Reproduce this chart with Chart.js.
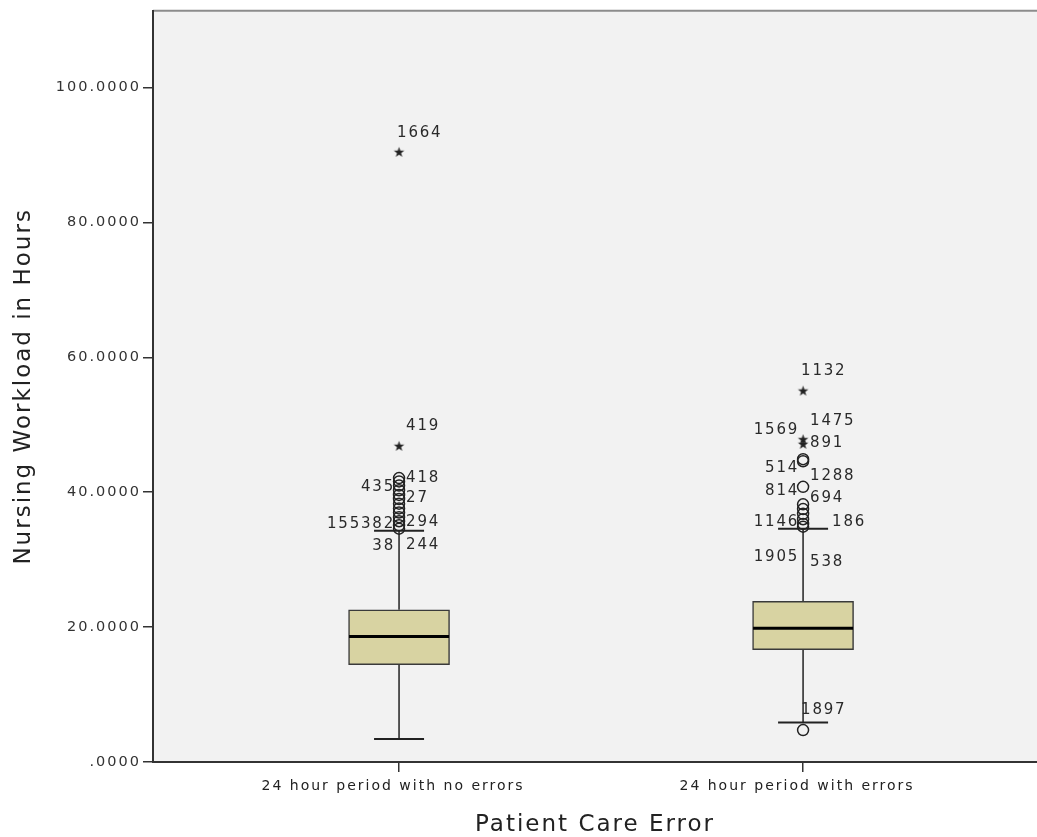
<!DOCTYPE html>
<html>
<head>
<meta charset="utf-8">
<script src="https://cdn.jsdelivr.net/npm/chart.js@4.4.0/dist/chart.umd.min.js"></script>
<style>
  html, body { margin: 0; padding: 0; background: #fff; }
  #wrap { width: 1037px; height: 837px; position: relative; }
</style>
</head>
<body>
<div id="wrap"><canvas id="chart"></canvas></div>
<script>
// categories sit at x = 1 and x = 2 on a linear axis
const categories = ['24 hour period with no errors', '24 hour period with errors'];
const groupX = [1, 2];

// box plot summary (hours)
const q1 = [14.43, 16.65];
const medians = [18.6, 19.84];
const q3 = [22.56, 23.83];
const whiskerLow = [3.4, 5.86];
const whiskerHigh = [34.3, 34.6];

// outliers (circles) and extremes (stars)
const circleOutliers = [
  [42.1, 41.6, 41.0, 40.3, 39.6, 39.0, 38.3, 37.6, 37.0, 36.3, 35.7, 35.1, 34.6],
  [44.9, 44.6, 40.8, 38.2, 37.5, 36.8, 36.0, 35.3, 34.9, 4.73]
];
const starOutliers = [
  [90.4, 46.8],
  [55.0, 47.8, 47.1]
];

// case labels: id, group index, value where the text sits, side of the mark
const caseIds   = ['1664', '419', '418', '435', '27', '155382', '294', '38', '244',
                   '1132', '1569', '1475', '891', '514', '1288', '814', '694', '1146', '186', '1905', '538', '1897'];
const caseGroup = [0, 0, 0, 0, 0, 0, 0, 0, 0,
                   1, 1, 1, 1, 1, 1, 1, 1, 1, 1, 1, 1, 1];
const caseY     = [93.2, 49.8, 42.1, 40.8, 39.1, 35.3, 35.6, 32.05, 32.2,
                   57.9, 49.2, 50.5, 47.3, 43.6, 42.4, 40.2, 39.1, 35.5, 35.5, 30.4, 29.7, 7.7];
const caseSide  = ['top', 'right', 'right', 'left', 'right', 'left', 'right', 'left', 'right',
                   'top', 'left', 'right', 'right', 'left', 'right', 'left', 'right', 'left', 'far', 'left', 'right', 'top'];

const yTicks = [0, 20, 40, 60, 80, 100];
const yMax = 111.4;

function makeStar() {
  const c = document.createElement('canvas');
  c.width = 13; c.height = 13;
  const g = c.getContext('2d');
  g.fillStyle = '#222';
  g.beginPath();
  for (let k = 0; k < 10; k++) {
    const r = k % 2 ? 2.2 : 5.5;
    const a = -Math.PI / 2 + k * Math.PI / 5;
    g.lineTo(6.5 + r * Math.cos(a), 6.5 + r * Math.sin(a));
  }
  g.closePath();
  g.fill();
  return c;
}

const circlePoints = [];
circleOutliers.forEach((vals, i) => vals.forEach(v => circlePoints.push({ x: groupX[i], y: v })));
const starPoints = [];
starOutliers.forEach((vals, i) => vals.forEach(v => starPoints.push({ x: groupX[i], y: v })));
const boxes = groupX.map((x, i) => ({ x: x, y: [q1[i], q3[i]] }));

const boxParts = {
  id: 'boxParts',
  beforeDraw(chart) {
    const { ctx, chartArea: a } = chart;
    ctx.save();
    ctx.fillStyle = '#f2f2f2';
    ctx.fillRect(a.left, a.top, a.right - a.left, a.bottom - a.top);
    ctx.strokeStyle = '#8c8c8c';
    ctx.lineWidth = 2;
    ctx.beginPath();
    ctx.moveTo(a.left, a.top);
    ctx.lineTo(a.right, a.top);
    ctx.stroke();
    ctx.restore();
    // SPSS text is loosely spaced; applies to all axis text drawn after this
    ctx.letterSpacing = '2px';
  },
  beforeDatasetsDraw(chart) {
    const { ctx } = chart;
    const xs = chart.scales.x, ys = chart.scales.y;
    const seg = (x1, y1, x2, y2) => { ctx.beginPath(); ctx.moveTo(x1, y1); ctx.lineTo(x2, y2); ctx.stroke(); };
    ctx.save();
    ctx.strokeStyle = '#222';
    groupX.forEach((gx, i) => {
      const px = xs.getPixelForValue(gx);
      ctx.lineWidth = 1.5;
      seg(px, ys.getPixelForValue(q3[i]), px, ys.getPixelForValue(whiskerHigh[i]));
      seg(px, ys.getPixelForValue(q1[i]), px, ys.getPixelForValue(whiskerLow[i]));
      ctx.lineWidth = 2;
      seg(px - 25, ys.getPixelForValue(whiskerHigh[i]), px + 25, ys.getPixelForValue(whiskerHigh[i]));
      seg(px - 25, ys.getPixelForValue(whiskerLow[i]), px + 25, ys.getPixelForValue(whiskerLow[i]));
    });
    ctx.restore();
  },
  afterDatasetsDraw(chart) {
    const { ctx } = chart;
    const xs = chart.scales.x, ys = chart.scales.y;
    ctx.save();
    ctx.strokeStyle = '#000';
    ctx.lineWidth = 3;
    groupX.forEach((gx, i) => {
      const px = xs.getPixelForValue(gx);
      const py = ys.getPixelForValue(medians[i]);
      ctx.beginPath();
      ctx.moveTo(px - 50, py);
      ctx.lineTo(px + 50, py);
      ctx.stroke();
    });
    ctx.restore();
  },
  afterDraw(chart) {
    const { ctx } = chart;
    const xs = chart.scales.x, ys = chart.scales.y;
    ctx.save();
    ctx.letterSpacing = '1.8px';
    ctx.font = '15px "DejaVu Sans"';
    ctx.fillStyle = '#2a2a2a';
    ctx.textBaseline = 'middle';
    caseIds.forEach((id, k) => {
      const px = xs.getPixelForValue(groupX[caseGroup[k]]);
      const py = ys.getPixelForValue(caseY[k]);
      const side = caseSide[k];
      if (side === 'left') {
        ctx.textAlign = 'right';
        ctx.fillText(id, px - 4, py);
      } else {
        ctx.textAlign = 'left';
        const dx = side === 'top' ? -2 : side === 'far' ? 29 : 7;
        ctx.fillText(id, px + dx, py);
      }
    });
    ctx.restore();
    ctx.letterSpacing = '0px';
  }
};

new Chart(document.getElementById('chart'), {
  type: 'scatter',
  data: {
    datasets: [
      {
        type: 'scatter',
        data: circlePoints,
        pointStyle: 'circle',
        radius: 5.5,
        borderWidth: 1.5,
        borderColor: '#222',
        backgroundColor: 'rgba(0,0,0,0)'
      },
      {
        type: 'scatter',
        data: starPoints,
        pointStyle: makeStar(),
        radius: 6
      },
      {
        type: 'bar',
        data: boxes,
        backgroundColor: '#d8d3a2',
        borderColor: '#3a3a3a',
        borderWidth: 1.5,
        borderSkipped: false,
        barThickness: 101
      }
    ]
  },
  options: {
    responsive: true,
    maintainAspectRatio: false,
    animation: false,
    events: [],
    layout: { autoPadding: false, padding: { top: 9, right: 0, bottom: 0, left: 0 } },
    plugins: { legend: { display: false }, tooltip: { enabled: false } },
    scales: {
      x: {
        type: 'linear',
        min: 0.391,
        max: 2.579,
        offset: false,
        afterBuildTicks: s => { s.ticks = groupX.map(v => ({ value: v })); },
        afterFit: s => { s.height = 75; },
        ticks: {
          callback: (v, i) => categories[i],
          font: { family: '"DejaVu Sans"', size: 14 },
          color: '#222',
          padding: 6,
          labelOffset: -6,
          maxRotation: 0,
          autoSkip: false
        },
        grid: { drawOnChartArea: false, offset: false, tickLength: 10, color: '#333', lineWidth: 1.5 },
        border: { color: '#333', width: 2 },
        title: {
          display: true,
          text: 'Patient Care Error',
          font: { family: '"DejaVu Sans"', size: 23, lineHeight: 1 },
          color: '#222',
          padding: { top: 0, bottom: 0 }
        }
      },
      y: {
        min: 0,
        max: yMax,
        afterBuildTicks: s => { s.ticks = yTicks.map(v => ({ value: v })); },
        afterFit: s => { s.width = 153; },
        ticks: {
          callback: v => v.toFixed(4).replace(/^0\./, '.'),
          font: { family: '"DejaVu Sans"', size: 14.5 },
          color: '#333',
          padding: 2
        },
        grid: { drawOnChartArea: false, tickLength: 10, color: '#333', lineWidth: 1.5 },
        border: { color: '#333', width: 2 },
        title: {
          display: true,
          text: 'Nursing Workload in Hours',
          font: { family: '"DejaVu Sans"', size: 23, lineHeight: 1 },
          color: '#222',
          padding: { top: 13, bottom: 0 }
        }
      }
    }
  },
  plugins: [boxParts]
});
</script>
</body>
</html>
